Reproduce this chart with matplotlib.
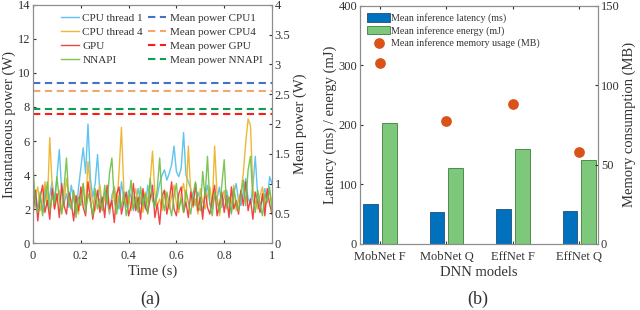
import numpy as np
import matplotlib
matplotlib.use("Agg")
import matplotlib.pyplot as plt

# ---- (a) instantaneous power traces (W), sampled evenly over 1 s ----
cpu1 = [2.4, 3.1, 2.0, 2.7, 1.9, 3.3, 2.2, 2.8, 3.6, 2.5, 3.9, 5.5, 3.0, 2.3, 2.9, 2.1, 3.4, 2.6, 1.8, 3.2,
        4.4, 5.6, 4.1, 7.0, 3.8, 2.7, 3.5, 5.2, 2.9, 2.2, 3.0, 2.5, 1.7, 2.8, 3.3, 2.4, 2.0, 3.6, 2.6, 2.1,
        3.1, 2.7, 1.9, 2.5, 3.2, 2.3, 2.9, 2.0, 3.4, 2.6, 3.0, 2.2, 2.8, 3.5, 4.0, 4.3, 3.7, 4.1, 4.6, 5.7,
        4.2, 3.9, 4.4, 6.5, 4.0, 3.6, 3.2, 2.7, 2.2, 3.0, 2.5, 1.9, 2.8, 3.4, 2.3, 2.0, 2.9, 2.6, 3.3, 2.1,
        2.7, 3.1, 2.4, 1.8, 2.9, 3.5, 2.5, 2.2, 3.0, 3.8, 2.6, 2.3, 3.3, 5.1, 2.8, 2.1, 2.7, 3.2, 2.4, 3.9, 3.5]
cpu4 = [2.1, 2.8, 3.3, 1.9, 2.5, 3.6, 2.2, 6.2, 3.4, 2.0, 2.7, 3.1, 1.8, 2.4, 3.8, 2.6, 2.0, 3.0, 2.3, 1.7,
        2.9, 3.5, 2.1, 4.8, 3.2, 2.4, 1.9, 2.8, 3.4, 2.2, 2.6, 3.0, 1.8, 2.5, 3.3, 2.0, 4.2, 6.8, 3.1, 2.3,
        2.8, 1.9, 2.6, 3.2, 2.1, 2.7, 1.8, 3.0, 2.4, 3.6, 5.4, 2.9, 2.2, 2.6, 1.9, 3.1, 2.5, 2.0, 2.8, 3.4,
        2.3, 1.8, 2.9, 3.5, 2.4, 5.7, 3.0, 2.1, 2.6, 1.7, 3.2, 2.4, 2.0, 2.8, 3.3, 2.2, 5.7, 2.9, 1.6, 2.5,
        3.1, 2.0, 2.7, 2.3, 3.4, 1.9, 2.6, 3.0, 4.1, 5.9, 7.3, 6.9, 3.2, 2.4, 2.0, 2.8, 3.3, 2.1, 2.6, 3.0, 2.4]
gpu = [1.6, 3.1, 1.3, 2.7, 3.4, 1.8, 2.5, 1.4, 3.2, 2.0, 2.9, 1.5, 3.5, 2.2, 1.7, 3.0, 2.4, 1.3, 2.8, 1.9,
       3.3, 2.1, 1.6, 3.6, 2.6, 1.4, 2.3, 3.1, 1.8, 2.7, 1.5, 3.4, 2.0, 2.5, 1.2, 2.9, 3.3, 1.7, 2.4, 3.0,
       1.6, 2.2, 3.5, 1.9, 2.7, 1.4, 3.2, 2.1, 1.8, 2.6, 3.4, 1.5, 2.3, 1.1, 2.8, 3.1, 1.7, 2.5, 3.6, 2.0,
       1.6, 2.9, 3.3, 1.8, 2.4, 1.5, 3.0, 2.2, 3.5, 1.9, 2.7, 1.4, 3.2, 2.1, 1.7, 2.6, 3.4, 1.6, 2.3, 3.0,
       1.8, 2.8, 1.5, 3.3, 2.0, 2.5, 1.7, 3.1, 2.2, 3.6, 1.9, 2.6, 1.4, 3.0, 2.4, 1.8, 2.9, 1.6, 3.2, 2.3, 1.7]
nnapi = [4.6, 2.2, 1.8, 3.0, 1.6, 2.5, 3.6, 1.9, 2.8, 2.3, 3.9, 2.6, 1.7, 3.3, 5.0, 2.4, 2.0, 3.1, 1.5, 2.7,
         2.2, 3.5, 1.8, 2.9, 2.4, 1.6, 3.2, 2.0, 2.6, 1.9, 3.4, 2.3, 4.1, 5.0, 2.5, 1.7, 2.8, 2.1, 3.0, 1.6,
         2.4, 3.7, 2.0, 2.7, 1.8, 3.3, 2.2, 2.9, 1.7, 3.8, 2.5, 2.1, 3.2, 5.0, 2.6, 1.9, 3.0, 2.3, 1.6, 2.8,
         3.5, 2.0, 2.6, 1.8, 3.1, 2.4, 1.7, 2.9, 3.6, 2.2, 1.9, 4.2, 2.7, 5.1, 2.3, 1.6, 3.0, 2.5, 1.8, 3.4,
         4.9, 2.1, 2.7, 1.7, 3.2, 2.4, 1.9, 2.8, 3.7, 2.2, 4.3, 5.1, 2.6, 1.8, 3.1, 2.3, 1.6, 2.9, 2.4, 3.3, 1.8]
trace_names = ["CPU thread 1", "CPU thread 4", "GPU", "NNAPI"]
mean_names = ["Mean power CPU1", "Mean power CPU4", "Mean power GPU", "Mean power NNAPI"]
mean_power = [2.69, 2.56, 2.17, 2.25]

# ---- (b) per-model inference stats ----
models = ["MobNet F", "MobNet Q", "EffNet F", "EffNet Q"]
latency_ms = [67, 53, 59, 56]
energy_mj = [204, 127, 160, 141]
memory_mb = [114, 77.5, 88, 58]

TRACE_COLORS = ["#4DBEEE", "#EDB120", "#F03030", "#6DBE45"]
MEAN_COLORS = ["#4472C4", "#F4A670", "#FF1A1A", "#0E9F4E"]
C_LAT = "#0072BD"
C_EN = "#7DC87A"
C_MEM = "#D95319"
SPINE = "#8c8c8c"
TXT = "#333333"

plt.rcParams.update({
    "font.family": ["Liberation Serif", "DejaVu Serif"],
    "font.size": 9,
    "text.color": TXT,
    "axes.labelcolor": TXT,
    "xtick.color": TXT,
    "ytick.color": TXT,
    "axes.edgecolor": SPINE,
    "xtick.direction": "in",
    "ytick.direction": "in",
    "xtick.major.size": 2.5,
    "ytick.major.size": 2.5,
    "axes.linewidth": 0.8,
})

fig = plt.figure(figsize=(6.4, 3.1), dpi=100)

# ---------------- (a) ----------------
ax = fig.add_axes([0.0516, 0.216, 0.3734, 0.768])
axr = ax.twinx()
handles = []
for vals, name, col in zip([cpu1, cpu4, gpu, nnapi], trace_names, TRACE_COLORS):
    t = np.linspace(0, 1, len(vals))
    h, = ax.plot(t, vals, color=col, lw=1.0, alpha=0.9, label=name)
    handles.append(h)
for mp, name, col in zip(mean_power, mean_names, MEAN_COLORS):
    h = axr.axhline(mp, color=col, lw=1.5, ls=(0, (3.5, 2.2)), label=name)
    handles.append(h)

ax.set_xlim(0, 1)
ax.set_ylim(0, 14)
ax.set_yticks(range(0, 15, 2))
ax.set_xticks([0, 0.2, 0.4, 0.6, 0.8, 1])
ax.set_xticklabels(["0", "0.2", "0.4", "0.6", "0.8", "1"])
axr.set_ylim(0, 4)
axr.set_yticks(np.arange(0, 4.01, 0.5))
axr.set_yticklabels(["0", "0.5", "1", "1.5", "2", "2.5", "3", "3.5", "4"])
ax.tick_params(axis="y", labelsize=9, pad=2)
ax.tick_params(axis="x", top=True, labelsize=9, pad=5)
axr.tick_params(labelsize=9, pad=2)
ax.set_xlabel("Time (s)", fontsize=10.5, labelpad=2)
ax.set_ylabel("Instantaneous power (W)", fontsize=10.5, labelpad=1)
axr.set_ylabel("Mean power (W)", fontsize=10.5, labelpad=2)
ax.legend(handles=handles, ncol=2, loc="upper left", bbox_to_anchor=(0.09, 0.995),
          frameon=False, fontsize=8.0, handlelength=1.6, handletextpad=0.3,
          columnspacing=0.5, labelspacing=0.38, borderaxespad=0.2)

# ---------------- (b) ----------------
bx = fig.add_axes([0.5625, 0.213, 0.372, 0.768])
bxr = bx.twinx()
x = np.arange(1, len(models) + 1)
w = 0.22
h1 = bx.bar(x - 0.14, latency_ms, w, color=C_LAT, edgecolor="#1a4f7a", lw=0.6,
            label="Mean inference latency (ms)")
h2 = bx.bar(x + 0.14, energy_mj, w, color=C_EN, edgecolor="#3f7d3c", lw=0.6,
            label="Mean inference energy (mJ)")
h3 = bxr.scatter(x, memory_mb, s=45, color=C_MEM, zorder=3,
                 label="Mean inference memory usage (MB)")
bx.set_xlim(0.7, 4.28)
bx.set_ylim(0, 400)
bx.set_yticks([0, 100, 200, 300, 400])
bx.set_xticks(x)
bx.set_xticklabels(models)
bxr.set_ylim(0, 150)
bxr.set_yticks([0, 50, 100, 150])
bx.tick_params(axis="y", labelsize=9, pad=2)
bx.tick_params(axis="x", top=True, labelsize=9, pad=5)
bxr.tick_params(labelsize=9, pad=2)
bx.set_xlabel("DNN models", fontsize=10.5, labelpad=2)
bx.set_ylabel("Latency (ms) / energy (mJ)", fontsize=10.5, labelpad=1)
bxr.set_ylabel("Memory consumption (MB)", fontsize=10.5, labelpad=2)
bx.legend(handles=[h1, h2, h3], loc="upper left", bbox_to_anchor=(0.0, 1.0),
          frameon=False, fontsize=7.2, handlelength=2.3, handleheight=1.0,
          handletextpad=0.1, labelspacing=0.25, borderaxespad=0.3)

fig.text(0.234, 0.02, "(a)", fontsize=13, ha="center")
fig.text(0.747, 0.02, "(b)", fontsize=13, ha="center")

fig.savefig("out.png", dpi=100)
